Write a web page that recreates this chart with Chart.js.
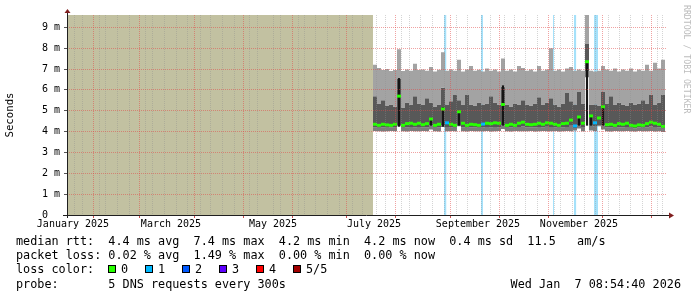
<!DOCTYPE html>
<html lang="en">
<head>
<meta charset="UTF-8">
<title>Smokeping DNS - last 360 days</title>
<script src="https://cdn.jsdelivr.net/npm/chart.js"></script>
<style>
  body { margin: 0; background: #fff; }
  #wrap { position: relative; width: 697px; height: 297px; font-family: "DejaVu Sans Mono", monospace; color: #000; }
  #chart { position: absolute; left: 0; top: 0; }
  .txt { position: absolute; font-size: 11.8px; line-height: 14px; white-space: pre; }
  .box { position: absolute; top: 265px; width: 6px; height: 6px; border: 1px solid #000; }
  .lbl { position: absolute; top: 262px; font-size: 11.8px; line-height: 14px; white-space: pre; }
  #mark { position: absolute; left: 682px; top: 5px; font-size: 8.2px; color: #bcbcbc; writing-mode: vertical-rl; white-space: pre; }
</style>
</head>
<body>
<div id="wrap">
  <canvas id="chart" width="697" height="297"></canvas>
  <div id="mark">RRDTOOL / TOBI OETIKER</div>
  <div class="txt" style="left:16px;top:234px">median rtt:  4.4 ms avg  7.4 ms max  4.2 ms min  4.2 ms now  0.4 ms sd  11.5   am/s</div>
  <div class="txt" style="left:16px;top:248px">packet loss: 0.02 % avg  1.49 % max  0.00 % min  0.00 % now</div>
  <div class="txt" style="left:16px;top:262px">loss color:</div>
  <div id="legend"></div>
  <div class="txt" style="left:16px;top:277px">probe:       5 DNS requests every 300s</div>
  <div class="txt" style="right:16px;top:277px">Wed Jan  7 08:54:40 2026</div>
</div>
<script>
// x values are days since 1 Jan 2025
const xMin = 12.22;
const xMax = 372.2;
const yMax = 9.59;

// samples start mid July, one every 2.4 days
const xStart = 195.8;
const xStep = 2.4;

// smoke: sorted pings (ms)
const smokeMin = [
  4.03,4.02,4.00,4.02,4.03,4.01,4.25,4.02,4.00,4.03,
  4.02,4.01,4.03,4.02,4.10,4.02,4.00,4.22,4.02,4.03,
  4.01,4.25,4.02,4.00,4.03,4.02,4.02,4.01,4.03,4.00,
  4.02,4.03,4.12,4.02,4.00,4.03,4.02,4.01,4.02,4.03,
  4.00,4.02,4.03,4.01,4.02,4.03,4.00,4.02,4.03,4.02,
  4.05,4.15,4.02,6.60,4.05,4.03,4.25,4.10,4.02,4.00,
  4.03,4.02,4.01,4.03,4.02,4.00,4.03,4.02,4.01,4.03,
  4.00,4.02,3.98
];
const smokeLow = [
  4.20,4.18,4.20,4.22,4.19,4.20,4.30,4.18,4.21,4.22,
  4.20,4.22,4.19,4.21,4.30,4.18,4.20,4.30,4.22,4.20,
  4.18,4.32,4.21,4.18,4.20,4.19,4.18,4.20,4.22,4.21,
  4.22,4.21,4.30,4.18,4.20,4.18,4.22,4.24,4.20,4.19,
  4.20,4.22,4.20,4.23,4.22,4.20,4.18,4.21,4.22,4.28,
  4.17,4.30,4.22,6.90,4.32,4.24,4.30,4.30,4.19,4.20,
  4.18,4.21,4.20,4.22,4.18,4.16,4.19,4.18,4.21,4.24,
  4.22,4.20,4.14
];
const smokeHigh = [
  5.70,5.35,5.50,5.25,5.30,5.20,6.55,5.15,5.40,5.30,
  5.70,5.35,5.30,5.60,5.40,5.20,5.30,6.10,5.30,5.45,
  5.75,5.50,5.30,5.75,5.30,5.25,5.40,5.30,5.35,5.70,
  5.40,5.30,6.15,5.30,5.20,5.35,5.30,5.50,5.30,5.25,
  5.35,5.65,5.30,5.40,5.60,5.30,5.20,5.35,5.85,5.45,
  5.30,5.90,5.35,8.20,5.30,5.30,5.25,5.90,5.35,5.70,
  5.30,5.40,5.30,5.25,5.40,5.30,5.35,5.50,5.35,5.75,
  5.30,5.40,5.75
];
const smokeMax = [
  7.20,7.05,6.95,7.00,6.90,6.95,7.95,6.90,6.98,6.92,
  7.25,6.95,6.98,6.92,7.10,6.88,6.96,7.80,6.92,6.98,
  6.92,7.45,6.88,6.98,7.15,6.92,6.96,6.88,7.02,6.92,
  6.98,6.88,7.50,6.92,6.98,6.88,7.15,7.05,6.92,6.98,
  6.88,7.15,6.92,6.98,8.00,6.92,6.98,6.88,7.02,7.10,
  6.92,6.98,6.92,9.70,6.92,6.88,6.92,7.15,6.98,6.92,
  7.02,6.88,6.98,6.92,7.02,6.88,6.98,6.92,7.20,6.92,
  7.30,7.02,7.45
];
const medianRtt = [
  4.35,4.30,4.35,4.32,4.30,4.35,5.70,4.30,4.38,4.40,
  4.35,4.40,4.33,4.38,4.60,4.30,4.35,5.08,4.42,4.35,
  4.30,4.95,4.40,4.30,4.35,4.33,4.30,4.36,4.40,4.38,
  4.42,4.40,5.30,4.30,4.35,4.30,4.40,4.45,4.35,4.33,
  4.35,4.40,4.35,4.42,4.40,4.35,4.30,4.38,4.40,4.55,
  4.27,4.70,4.40,7.35,4.75,4.42,4.65,5.19,4.33,4.35,
  4.30,4.38,4.35,4.40,4.30,4.27,4.32,4.30,4.38,4.45,
  4.40,4.35,4.25
];
// lost pings per sample (out of 5)
const medianLoss = [
  0,0,0,0,0,0,0,0,0,0,
  0,0,0,0,0,0,0,0,1,0,
  0,0,0,0,0,0,0,1,0,0,
  0,0,0,0,0,0,0,0,0,0,
  0,0,0,0,0,0,0,0,0,0,
  1,0,0,0,0,1,0,0,0,0,
  0,0,0,0,0,0,0,0,0,0,
  0,0,0
];

// dark median jumps
const spikeDays = [211.4, 230.6, 237.8, 247.4, 273.8, 319.4, 324.2, 326.6, 333.8];
const spikeLow  = [4.25, 4.30, 4.25, 4.30, 4.30, 4.30, 4.30, 4.30, 4.30];
const spikeHigh = [6.55, 4.60, 5.15, 4.95, 6.20, 4.70, 7.35, 4.75, 5.19];

// periods with packet loss
const lossStart = [238.4, 260.6, 303.8, 316.4, 328.4];
const lossEnd   = [239.9, 261.8, 304.4, 317.8, 330.8];

// no data before this day
const unknownEnd = 195.8;

const lossNames  = ['0', '1', '2', '3', '4', '5/5'];
const lossColors = ['#26ff00', '#00b8ff', '#0059ff', '#5e00ff', '#ff0000', '#a10000'];

// x axis: month starts (Feb 2025 .. Jan 2026), first Sunday line, labels
const monthStarts = [31, 59, 90, 120, 151, 181, 212, 243, 273, 304, 334, 365];
const firstWeek = 18;
const xLabelDays = [15.8, 74.6, 135.8, 196.4, 258.8, 319.4];
const xLabels = ['January 2025', 'March 2025', 'May 2025', 'July 2025', 'September 2025', 'November 2025'];
const yLabels = ['0  ', '1 m', '2 m', '3 m', '4 m', '5 m', '6 m', '7 m', '8 m', '9 m'];

const FONT = "'DejaVu Sans Mono', monospace";
const GRID = 'rgba(143,143,143,0.38)';
const MGRID = 'rgba(226,70,70,0.5)';

// legend boxes
const legend = document.getElementById('legend');
lossNames.forEach((name, i) => {
  const b = document.createElement('span');
  b.className = 'box';
  b.style.left = (108 + i * 37) + 'px';
  b.style.background = lossColors[i];
  legend.appendChild(b);
  const t = document.createElement('span');
  t.className = 'lbl';
  t.style.left = (121 + i * 37) + 'px';
  t.textContent = name;
  legend.appendChild(t);
});

// tick lists
const xTicks = [];
monthStarts.forEach(d => xTicks.push({ value: d, kind: 'month', text: '' }));
for (let d = firstWeek; d < xMax; d += 7) xTicks.push({ value: d, kind: 'week', text: '' });
xLabelDays.forEach((d, i) => xTicks.push({ value: d, kind: 'label', text: xLabels[i] }));
xTicks.sort((a, b) => a.value - b.value);

const yTicks = [];
for (let v = 0; v <= 9.5; v += 0.5) yTicks.push({ value: v });

const sampleDays = smokeMax.map((_, i) => xStart + i * xStep);
const xEnd = xStart + smokeMax.length * xStep;

function stepSeries(vals) {
  const pts = vals.map((v, i) => ({ x: sampleDays[i], y: v }));
  pts.push({ x: xEnd, y: vals[vals.length - 1] });
  return pts;
}

function smoke(vals, color, order) {
  return {
    type: 'line',
    data: stepSeries(vals),
    stepped: true,
    borderColor: 'transparent',
    borderWidth: 0,
    pointRadius: 0,
    backgroundColor: color,
    fill: color ? '-1' : false,
    order: order
  };
}

const datasets = [];

datasets.push({
  type: 'line',
  data: [{ x: xMin, y: yMax }, { x: unknownEnd, y: yMax }],
  backgroundColor: 'rgb(194,193,161)',
  borderColor: 'transparent',
  borderWidth: 0,
  pointRadius: 0,
  fill: 'origin',
  order: 20
});

lossStart.forEach((s, i) => {
  datasets.push({
    type: 'line',
    data: [{ x: s, y: yMax }, { x: lossEnd[i], y: yMax }],
    backgroundColor: 'rgb(165,225,250)',
    borderColor: 'transparent',
    borderWidth: 0,
    pointRadius: 0,
    fill: 'origin',
    order: 19
  });
});

datasets.push(smoke(smokeMin, null, 12));
datasets.push(smoke(smokeLow, '#7c7c7c', 11));
datasets.push(smoke(smokeHigh, '#585858', 10));
datasets.push(smoke(smokeMax, '#a3a3a3', 9));

datasets.push({
  type: 'bar',
  data: spikeDays.map((d, i) => ({ x: d, y: [spikeLow[i], spikeHigh[i]] })),
  backgroundColor: '#151515',
  barThickness: 1.5,
  grouped: false,
  order: 2
});

datasets.push({
  type: 'line',
  data: medianRtt.map((v, i) => ({ x: sampleDays[i] + xStep / 2, y: v })),
  showLine: false,
  pointStyle: 'line',
  pointRadius: 2,
  pointBorderWidth: 3,
  pointBorderColor: medianLoss.map(l => lossColors[l]),
  order: 1
});

const axisArrows = {
  id: 'axisArrows',
  afterDraw(chart) {
    const { ctx, chartArea: a } = chart;
    ctx.save();
    ctx.strokeStyle = '#1f1f1f';
    ctx.lineWidth = 1;
    ctx.beginPath();
    ctx.moveTo(a.left - 4, a.bottom + 0.5);
    ctx.lineTo(a.right + 3, a.bottom + 0.5);
    ctx.moveTo(a.left + 0.5, a.bottom + 3);
    ctx.lineTo(a.left + 0.5, a.top - 3);
    ctx.stroke();
    ctx.fillStyle = '#801f1f';
    ctx.beginPath();
    ctx.moveTo(a.right + 2, a.bottom - 2.5);
    ctx.lineTo(a.right + 7, a.bottom + 0.5);
    ctx.lineTo(a.right + 2, a.bottom + 3.5);
    ctx.fill();
    ctx.beginPath();
    ctx.moveTo(a.left - 2.5, a.top - 2);
    ctx.lineTo(a.left + 0.5, a.top - 6);
    ctx.lineTo(a.left + 3.5, a.top - 2);
    ctx.fill();
    ctx.restore();
  }
};

new Chart(document.getElementById('chart'), {
  type: 'line',
  data: { datasets },
  plugins: [axisArrows],
  options: {
    responsive: false,
    animation: false,
    events: [],
    layout: { padding: { left: 0, top: 15, right: 30, bottom: 62 } },
    plugins: { legend: { display: false }, tooltip: { enabled: false } },
    scales: {
      x: {
        type: 'linear',
        min: xMin,
        max: xMax,
        offset: false,
        afterBuildTicks: s => { s.ticks = xTicks.map(t => ({ ...t })); },
        afterFit: s => { s.height = 20; },
        border: { display: false, dash: [1, 1] },
        grid: {
          z: 1,
          color: c => (c.tick && c.tick.kind === 'month') ? MGRID : GRID,
          lineWidth: c => (c.tick && c.tick.kind === 'label') ? 0 : 1,
          drawTicks: true,
          tickLength: 3,
          tickColor: c => (c.tick && c.tick.kind === 'month') ? '#c85050' : 'transparent'
        },
        ticks: {
          autoSkip: false,
          maxRotation: 0,
          minRotation: 0,
          padding: 0,
          color: '#000',
          font: { family: FONT, size: 10 },
          callback: (v, i, ticks) => ticks[i].text || ''
        }
      },
      y: {
        type: 'linear',
        min: 0,
        max: yMax,
        afterBuildTicks: s => { s.ticks = yTicks.map(t => ({ ...t })); },
        afterFit: s => { s.width = 67; },
        border: { display: false, dash: [1, 1] },
        grid: {
          z: 1,
          color: c => (c.tick && Number.isInteger(c.tick.value)) ? MGRID : GRID,
          drawTicks: true,
          tickLength: 3,
          tickColor: '#555'
        },
        ticks: {
          padding: 4,
          color: '#000',
          font: { family: FONT, size: 10 },
          callback: v => Number.isInteger(v) ? yLabels[v] : ''
        },
        title: {
          display: true,
          text: 'Seconds',
          color: '#000',
          font: { family: FONT, size: 10.7 },
          padding: { top: 4, bottom: 0 }
        }
      }
    }
  }
});
</script>
</body>
</html>
